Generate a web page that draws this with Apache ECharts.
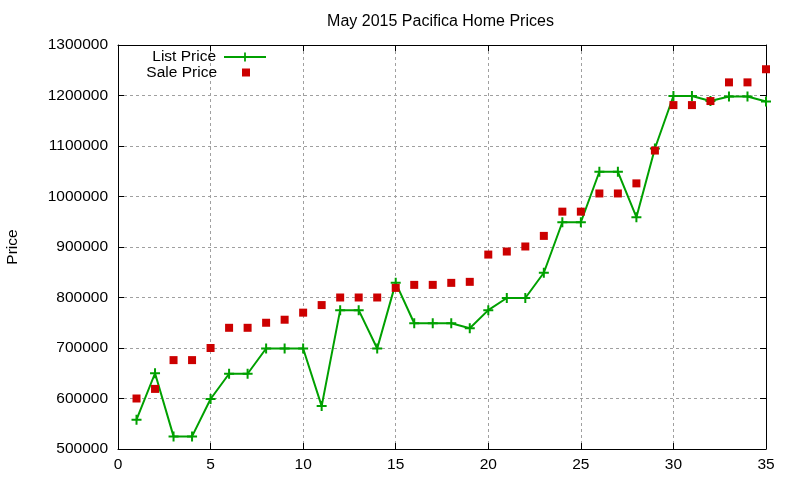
<!DOCTYPE html>
<html>
<head>
<meta charset="utf-8">
<script src="https://cdn.jsdelivr.net/npm/echarts@6/dist/echarts.min.js"></script>
<style>
html,body{margin:0;padding:0;background:#fff;}
#chart{width:800px;height:480px;}
</style>
</head>
<body>
<div id="chart"></div>
<script>
var days = [1,2,3,4,5,6,7,8,9,10,11,12,13,14,15,16,17,18,19,20,21,22,23,24,25,26,27,28,29,30,31,32,33,34,35];
var listPrice = [558000,650000,525000,525000,599000,649000,649000,699000,699000,699000,585000,775000,775000,699000,829000,749000,749000,749000,739000,775000,799000,799000,849000,949000,949000,1049000,1049000,959000,1095000,1199000,1199000,1189000,1198000,1198000,1188000];
var salePrice = [600000,619000,676000,676000,700000,740000,740000,750000,756000,770000,785000,800000,800000,800000,819000,825000,825000,829000,831000,885000,891000,901000,922000,970000,970000,1006000,1006000,1026000,1091000,1181000,1181000,1189000,1226000,1226000,1252000];
var xTicks = {min: 0, max: 35, interval: 5};
var yTicks = {min: 500000, max: 1300000, interval: 100000};

var FONT = 'Liberation Sans';
var plusPath = 'path://M4,0h2v4h4v2h-4v4h-2v-4h-4v-2h4z';
var squarePath = 'path://M0,0h10v10h-10z';
var green = '#00a000';
var red = '#cc0000';

var listData = days.map(function(d, i){ return [d, listPrice[i]]; });
var saleData = days.map(function(d, i){ return [d, salePrice[i]]; });

var gridLine = {show: true, lineStyle: {color: '#a0a0a0', width: 1, type: [3, 3]}};
var axisLine = {show: true, onZero: false, lineStyle: {color: '#000', width: 1}};
var tick = {show: true, inside: true, length: 6, lineStyle: {color: '#000'}};
var labelStyle = {color: '#000', fontFamily: FONT, fontSize: 15.5};

var chart = echarts.init(document.getElementById('chart'));
chart.setOption({
  animation: false,
  backgroundColor: '#fff',
  title: {
    text: 'May 2015 Pacifica Home Prices',
    left: 435.5, top: 9, textAlign: 'center',
    textStyle: {color: '#000', fontFamily: FONT, fontSize: 16, fontWeight: 'normal'}
  },
  legend: [
    {
      data: ['List Price'], right: 533, top: 48, padding: 0, align: 'right',
      itemWidth: 42, itemHeight: 11, selectedMode: false,
      textStyle: {color: '#000', fontFamily: FONT, fontSize: 15.5, lineHeight: 18, padding: [0, 3, 0, 0]}
    },
    {
      data: [{name: 'Sale Price', icon: squarePath}], right: 550, top: 63.5, padding: 0, align: 'right',
      itemWidth: 42, itemHeight: 8, symbolKeepAspect: true, selectedMode: false,
      textStyle: {color: '#000', fontFamily: FONT, fontSize: 15.5, lineHeight: 18, padding: [0, 3, 0, 0]}
    }
  ],
  grid: {left: 118, right: 34, top: 45, bottom: 31, containLabel: false, outerBoundsMode: 'none'},
  xAxis: [
    {
      type: 'value', min: xTicks.min, max: xTicks.max, interval: xTicks.interval,
      axisLine: axisLine, axisTick: tick, splitLine: gridLine,
      axisLabel: Object.assign({margin: 8}, labelStyle)
    },
    {
      type: 'value', position: 'top', min: xTicks.min, max: xTicks.max, interval: xTicks.interval,
      axisLine: axisLine, axisTick: tick, splitLine: {show: false}, axisLabel: {show: false}
    }
  ],
  yAxis: [
    {
      type: 'value', min: yTicks.min, max: yTicks.max, interval: yTicks.interval,
      name: 'Price', nameLocation: 'middle', nameGap: 97.5, nameRotate: 90, nameMoveOverlap: false,
      nameTextStyle: {color: '#000', fontFamily: FONT, fontSize: 15.5},
      axisLine: axisLine, axisTick: tick, splitLine: gridLine,
      axisLabel: Object.assign({margin: 10, formatter: function(v){ return String(v); }}, labelStyle)
    },
    {
      type: 'value', position: 'right', min: yTicks.min, max: yTicks.max, interval: yTicks.interval,
      axisLine: axisLine, axisTick: tick, splitLine: {show: false}, axisLabel: {show: false}
    }
  ],
  series: [
    {
      name: 'List Price', type: 'line', data: listData, xAxisIndex: 0, yAxisIndex: 0,
      symbol: plusPath, symbolSize: 10, showAllSymbol: true,
      lineStyle: {color: green, width: 2},
      itemStyle: {color: green},
      z: 2
    },
    {
      name: 'Sale Price', type: 'scatter', data: saleData, xAxisIndex: 0, yAxisIndex: 0,
      symbol: 'rect', symbolSize: 8,
      itemStyle: {color: red, opacity: 1},
      z: 3
    }
  ]
});
</script>
</body>
</html>
